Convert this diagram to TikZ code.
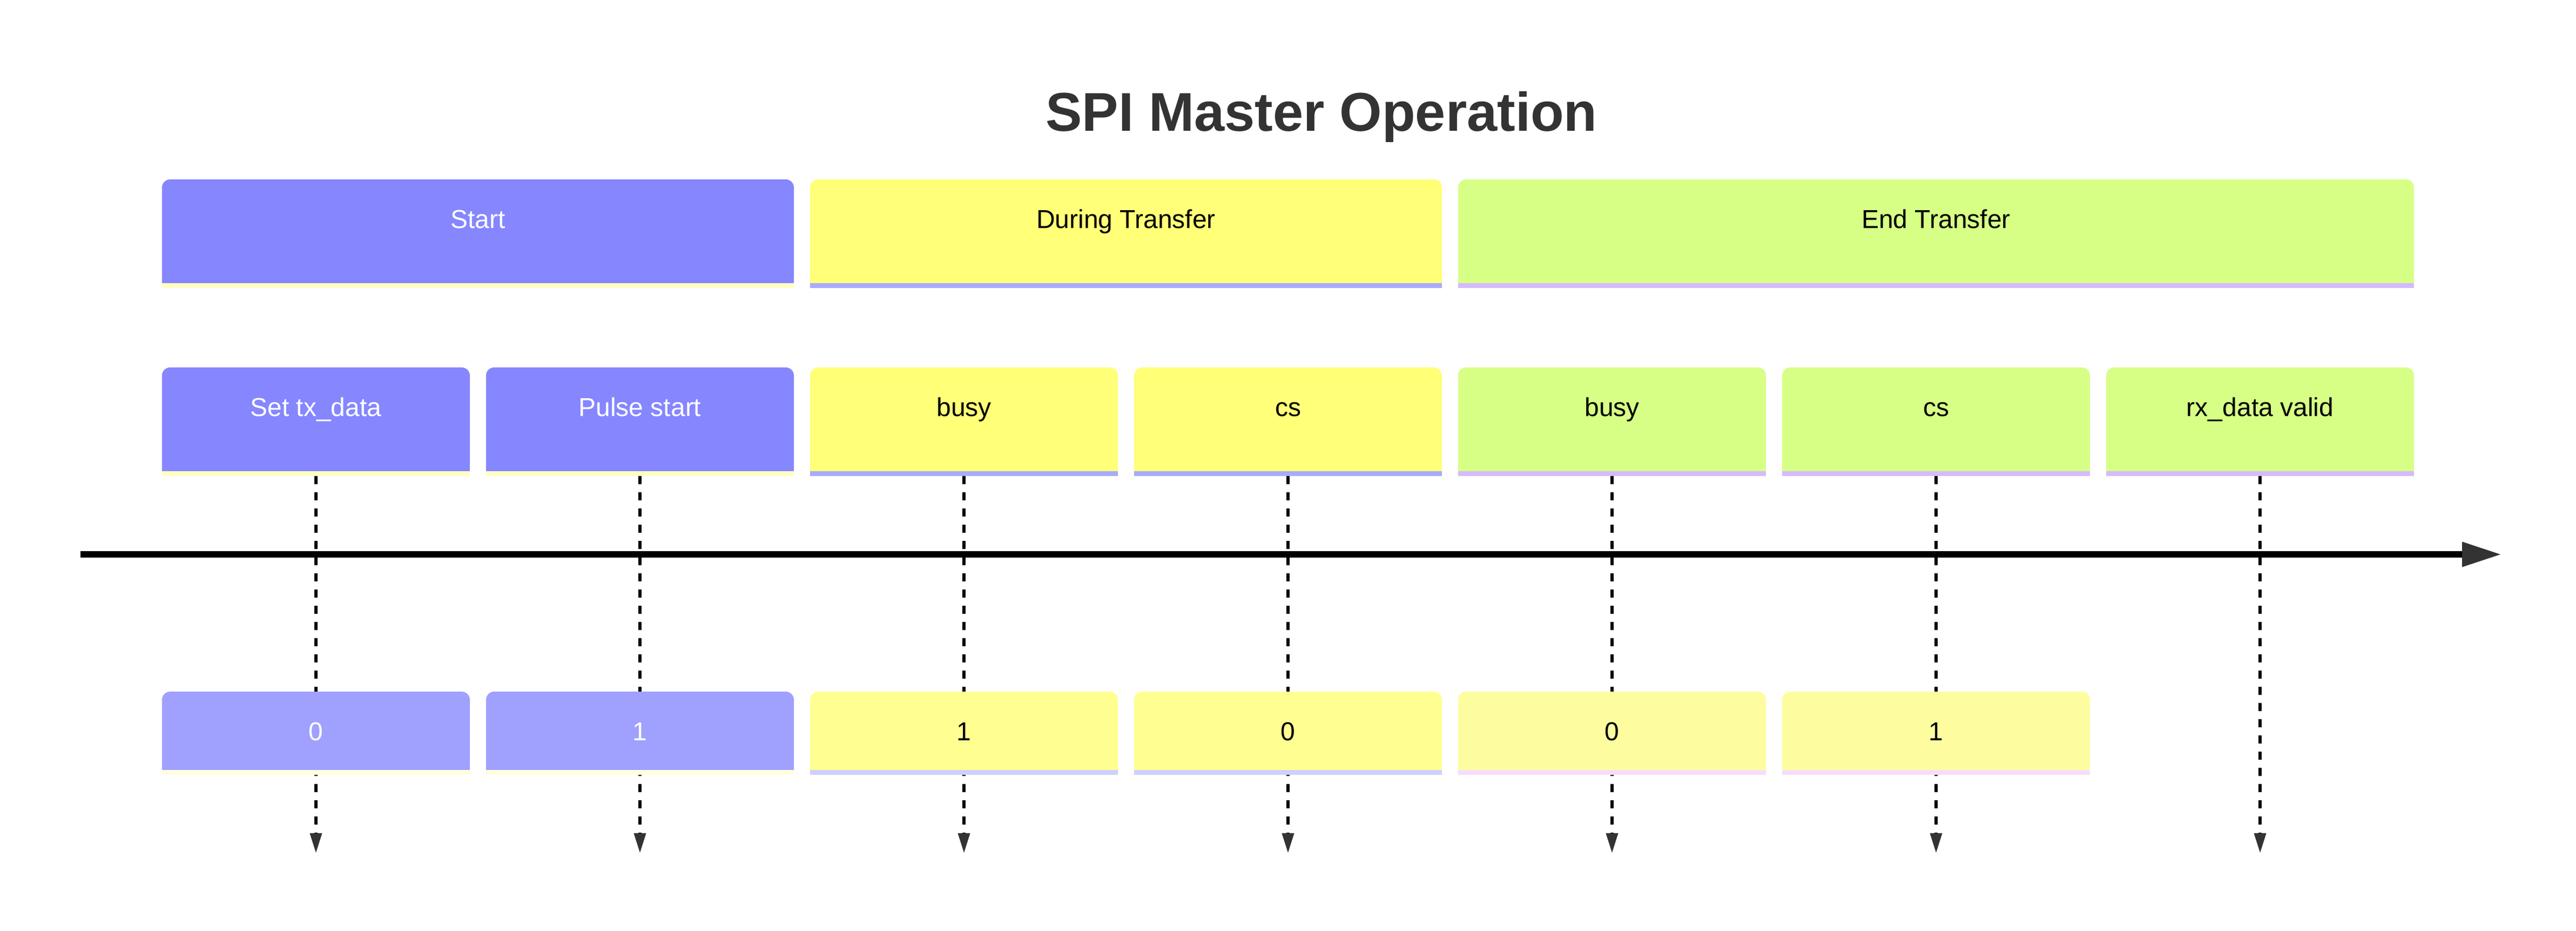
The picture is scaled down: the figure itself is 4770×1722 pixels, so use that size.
\documentclass[tikz,border=0pt]{standalone}
\usepackage{fontspec}
\setmainfont{Liberation Sans}
\usetikzlibrary{arrows.meta}
\definecolor{c333}{HTML}{333333}
\definecolor{Afill}{HTML}{8686FF}\definecolor{Aline}{HTML}{FFFFC2}\definecolor{Atxt}{HTML}{FFFFFF}
\definecolor{Bfill}{HTML}{FFFF78}\definecolor{Bline}{HTML}{AAAAFF}\definecolor{Btxt}{HTML}{000000}
\definecolor{Cfill}{HTML}{D7FF86}\definecolor{Cline}{HTML}{D4BBFF}\definecolor{Ctxt}{HTML}{000000}
\definecolor{Aefill}{HTML}{A0A0FF}\definecolor{Aeline}{HTML}{FFFFDE}\definecolor{Aetxt}{HTML}{FFFFFF}
\definecolor{Befill}{HTML}{FFFF91}\definecolor{Beline}{HTML}{D0D0FF}\definecolor{Betxt}{HTML}{000000}
\definecolor{Cefill}{HTML}{FDFDA0}\definecolor{Celine}{HTML}{F8DCFB}\definecolor{Cetxt}{HTML}{000000}
% #1 name, #2 colour prefix, #3 left, #4 top, #5 width, #6 fill height, #7 text
\newcommand{\tlbox}[7]{%
  \fill[#2fill, rounded corners=3pt] (#3,#4) rectangle ++(#5,#6);
  \fill[#2fill] (#3,#4+20) rectangle ++(#5,#6-20);
  \fill[#2line] (#3,#4+#6) rectangle ++(#5,9);
  \node[boxnode, minimum width={#5*0.2pt}, minimum height={(#6+9)*0.2pt}] (#1) at (#3,#4) {};
  \node[boxtext, text=#2txt] (#1-t) at (#3+#5/2,#4+90) {#7};
}
\tikzset{
  boxnode/.style={anchor=north west, inner sep=0pt, outer sep=0pt},
  boxtext/.style={anchor=base, inner sep=0pt, font=\fontsize{9.6}{11.5}\selectfont},
  dline/.style={draw=black, line width=1.2pt, dash pattern=on 3pt off 3pt,
    -{Triangle[length=7.2pt,width=4.6pt,line width=0pt,color=c333,fill=c333]}},
  axisline/.style={draw=black, line width=2.4pt,
    -{Triangle[length=14.2pt,width=9.4pt,line width=0pt,color=c333,fill=c333]}}
}
\begin{document}
\begin{tikzpicture}[x=0.2pt,y=-0.2pt]
\fill[white] (0,0) rectangle (4770,1722);
\useasboundingbox (0,0) rectangle (4770,1722);
\node[anchor=base, inner sep=0pt, text=c333, font=\fontsize{20.2}{24}\selectfont\bfseries] (title) at (2447,242) {SPI Master Operation};
% sections
\tlbox{secA}{A}{300}{332}{1170}{192}{Start}
\tlbox{secB}{B}{1500}{332}{1170}{192}{During Transfer}
\tlbox{secC}{C}{2700}{332}{1770}{192}{End Transfer}
% tasks
\tlbox{t1}{A}{300}{680}{570}{192}{Set tx\_data}
\tlbox{t2}{A}{900}{680}{570}{192}{Pulse start}
\tlbox{t3}{B}{1500}{680}{570}{192}{busy}
\tlbox{t4}{B}{2100}{680}{570}{192}{cs}
\tlbox{t5}{C}{2700}{680}{570}{192}{busy}
\tlbox{t6}{C}{3300}{680}{570}{192}{cs}
\tlbox{t7}{C}{3900}{680}{570}{192}{rx\_data valid}
% axis
\coordinate (axL) at (149,1026);
\coordinate (axR) at (4630,1026);
\draw[axisline] (axL) -- (axR);
% dashed connectors
\foreach \i/\x in {1/585,2/1185,3/1785,4/2385,5/2985,6/3585,7/4185}{
  \coordinate (end\i) at (\x,1578);
  \draw[dline] (t\i.south) -- (end\i);
}
% events
\tlbox{e1}{Ae}{300}{1280}{570}{145}{0}
\tlbox{e2}{Ae}{900}{1280}{570}{145}{1}
\tlbox{e3}{Be}{1500}{1280}{570}{145}{1}
\tlbox{e4}{Be}{2100}{1280}{570}{145}{0}
\tlbox{e5}{Ce}{2700}{1280}{570}{145}{0}
\tlbox{e6}{Ce}{3300}{1280}{570}{145}{1}
\end{tikzpicture}
\end{document}
